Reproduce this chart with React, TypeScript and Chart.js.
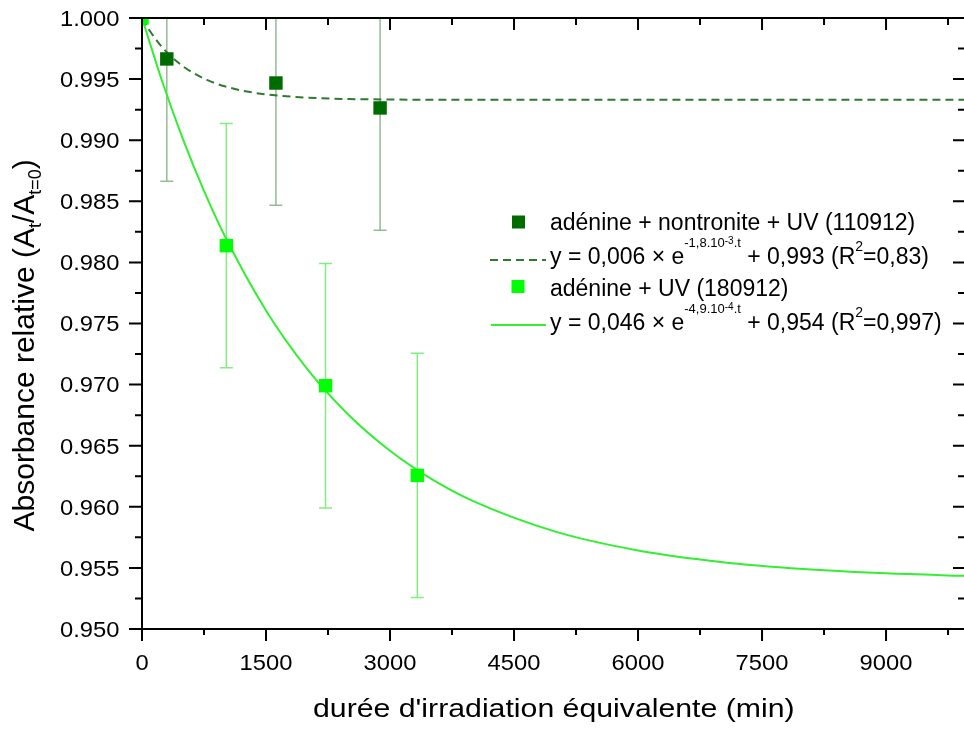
import React, { useEffect, useRef } from 'react';
import { Chart, registerables } from 'chart.js';

Chart.register(...registerables);

// ---- measured points (t in min, relative absorbance) ----
const darkT = [300, 1620, 2880];
const darkY = [0.99665, 0.99468, 0.99264];
const darkErr = [0.01, 0.01, 0.01];

const lightT = [0, 1020, 2220, 3330];
const lightY = [1.0, 0.98137, 0.96991, 0.96257];
const lightErr = [0, 0.01, 0.01, 0.01];

// ---- fitted curves, values ----
const darkFitT = [0, 100, 200, 300, 400, 600, 800, 1000, 1250, 1500, 2000, 2500, 3000, 4000, 10000];
const darkFitY = [1.0, 0.9989, 0.99797, 0.9972, 0.99656, 0.99558, 0.99489, 0.99441, 0.99401, 0.99375, 0.99348, 0.99337, 0.99333, 0.9933, 0.9933];

const lightFitT = [0, 250, 500, 750, 1000, 1500, 2000, 2500, 3000, 3500, 4000, 5000, 6000, 7000, 8000, 9000, 10000];
const lightFitY = [1.0, 0.9947, 0.99, 0.98585, 0.98218, 0.97606, 0.97126, 0.96751, 0.96458, 0.96228, 0.96048, 0.95797, 0.95643, 0.95549, 0.95491, 0.95456, 0.95434];

// ---- axes ----
const xMin = 0;
const xMax = 9943; // axis is cut by the right edge of the picture
const yMin = 0.95;
const yMax = 1.0;
const xTicks = [0, 1500, 3000, 4500, 6000, 7500, 9000];
const xTickLabels = ['0', '1500', '3000', '4500', '6000', '7500', '9000'];
const xMinorTicks = [750, 2250, 3750, 5250, 6750, 8250, 9750];
const yTicks = [0.95, 0.955, 0.96, 0.965, 0.97, 0.975, 0.98, 0.985, 0.99, 0.995, 1.0];
const yTickLabels = ['0.950', '0.955', '0.960', '0.965', '0.970', '0.975', '0.980', '0.985', '0.990', '0.995', '1.000'];
const yMinorTicks = [0.9525, 0.9575, 0.9625, 0.9675, 0.9725, 0.9775, 0.9825, 0.9875, 0.9925, 0.9975];

const xTitle = "durée d'irradiation équivalente (min)";
const darkLabel = 'adénine + nontronite + UV (110912)';
const lightLabel = 'adénine + UV (180912)';
const darkFitParts = ['y = 0,006 × e', '-1,8.10', '-3', '.t', ' + 0,993 (R', '2', '=0,83)'];
const lightFitParts = ['y = 0,046 × e', '-4,9.10', '-4', '.t', ' + 0,954 (R', '2', '=0,997)'];

const DARK = '#006c00';
const LIGHT = '#00ff00';
const DARK_FIT = '#2f7a2f';
const LIGHT_FIT = '#33ee33';
const DARK_ERR = 'rgba(40,120,40,0.5)';
const LIGHT_ERR = 'rgba(60,230,60,0.65)';
const FONT = '"Liberation Sans", Arial, Helvetica, sans-serif';

function stretchedText(ctx: CanvasRenderingContext2D, text: string, x: number, y: number, size: number, sx: number, align: 'left' | 'right' | 'center') {
  ctx.save();
  ctx.font = `${size}px ${FONT}`;
  const w = ctx.measureText(text).width * sx;
  let left = x;
  if (align === 'right') left = x - w;
  if (align === 'center') left = x - w / 2;
  ctx.translate(left, y);
  ctx.scale(sx, 1);
  ctx.textAlign = 'left';
  ctx.textBaseline = 'alphabetic';
  ctx.fillText(text, 0, 0);
  ctx.restore();
}

function richText(ctx: CanvasRenderingContext2D, parts: { t: string; s: number; r: number }[], x: number, y: number) {
  let cx = x;
  ctx.textAlign = 'left';
  ctx.textBaseline = 'alphabetic';
  for (const p of parts) {
    ctx.font = `${p.s}px ${FONT}`;
    ctx.fillText(p.t, cx, y - p.r);
    cx += ctx.measureText(p.t).width;
  }
}

function fitParts(p: string[]) {
  return [
    { t: p[0], s: 23, r: 0 },
    { t: p[1], s: 13, r: 17 },
    { t: p[2], s: 10, r: 20 },
    { t: p[3], s: 13, r: 17 },
    { t: p[4], s: 23, r: 0 },
    { t: p[5], s: 14, r: 13 },
    { t: p[6], s: 23, r: 0 },
  ];
}

const decor = {
  id: 'decor',
  beforeDatasetsDraw(chart: any) {
    const { ctx, chartArea: a, scales } = chart;
    const xs = scales.x;
    const ys = scales.y;
    ctx.save();
    ctx.beginPath();
    ctx.rect(a.left, a.top, a.right - a.left, a.bottom - a.top);
    ctx.clip();
    const bars = (ts: number[], vs: number[], es: number[], color: string) => {
      ctx.strokeStyle = color;
      ctx.lineWidth = 1.5;
      for (let i = 0; i < ts.length; i++) {
        if (es[i] <= 0) continue;
        const px = xs.getPixelForValue(ts[i]);
        const top = ys.getPixelForValue(vs[i] + es[i]);
        const bot = ys.getPixelForValue(vs[i] - es[i]);
        ctx.beginPath();
        ctx.moveTo(px, top);
        ctx.lineTo(px, bot);
        ctx.moveTo(px - 6.5, top);
        ctx.lineTo(px + 6.5, top);
        ctx.moveTo(px - 6.5, bot);
        ctx.lineTo(px + 6.5, bot);
        ctx.stroke();
      }
    };
    bars(darkT, darkY, darkErr, DARK_ERR);
    bars(lightT, lightY, lightErr, LIGHT_ERR);
    ctx.restore();
  },
  afterDatasetsDraw(chart: any) {
    const { ctx, chartArea: a, scales } = chart;
    const xs = scales.x;
    const ys = scales.y;
    const right = a.right + 1; // right axis line falls just outside the picture
    ctx.save();
    ctx.strokeStyle = '#000';
    ctx.fillStyle = '#000';
    ctx.lineWidth = 2;
    ctx.lineCap = 'butt';
    ctx.beginPath();
    ctx.moveTo(a.left, a.top);
    ctx.lineTo(right, a.top);
    ctx.moveTo(a.left, a.bottom);
    ctx.lineTo(right, a.bottom);
    ctx.moveTo(a.left, a.top - 1);
    ctx.lineTo(a.left, a.bottom + 1);
    ctx.moveTo(right, a.top - 1);
    ctx.lineTo(right, a.bottom + 1);
    for (const v of xTicks) {
      const px = xs.getPixelForValue(v);
      ctx.moveTo(px, a.bottom);
      ctx.lineTo(px, a.bottom + 12);
      ctx.moveTo(px, a.top);
      ctx.lineTo(px, a.top + 12);
    }
    for (const v of xMinorTicks) {
      const px = xs.getPixelForValue(v);
      ctx.moveTo(px, a.bottom);
      ctx.lineTo(px, a.bottom + 6);
      ctx.moveTo(px, a.top);
      ctx.lineTo(px, a.top + 7);
    }
    for (const v of yTicks) {
      const py = ys.getPixelForValue(v);
      ctx.moveTo(a.left - 13, py);
      ctx.lineTo(a.left, py);
      ctx.moveTo(right - 12, py);
      ctx.lineTo(right, py);
    }
    for (const v of yMinorTicks) {
      const py = ys.getPixelForValue(v);
      ctx.moveTo(a.left - 7, py);
      ctx.lineTo(a.left, py);
      ctx.moveTo(right - 7, py);
      ctx.lineTo(right, py);
    }
    ctx.stroke();
    xTicks.forEach((v, i) => {
      stretchedText(ctx, xTickLabels[i], xs.getPixelForValue(v), a.bottom + 41, 22, 1.08, 'center');
    });
    yTicks.forEach((v, i) => {
      stretchedText(ctx, yTickLabels[i], 119.5, ys.getPixelForValue(v) + 7.8, 22, 1.08, 'right');
    });
    stretchedText(ctx, xTitle, 313, 717, 25, 1.21, 'left');
    ctx.save();
    ctx.translate(33.5, 531.5);
    ctx.rotate(-Math.PI / 2);
    richText(ctx, [
      { t: 'Absorbance relative (A', s: 30, r: 0 },
      { t: 't', s: 18, r: -7 },
      { t: '/A', s: 30, r: 0 },
      { t: 't=0', s: 18, r: -7 },
      { t: ')', s: 30, r: 0 },
    ], 0, 0);
    ctx.restore();
    // legend
    ctx.fillStyle = DARK;
    ctx.fillRect(518.5 - 6.5, 222 - 6.5, 13, 13);
    ctx.fillStyle = LIGHT;
    ctx.fillRect(518 - 6.5, 286.5 - 6.5, 13, 13);
    ctx.strokeStyle = DARK_FIT;
    ctx.lineWidth = 2;
    ctx.setLineDash([8, 5]);
    ctx.beginPath();
    ctx.moveTo(490, 260);
    ctx.lineTo(546, 260);
    ctx.stroke();
    ctx.setLineDash([]);
    ctx.strokeStyle = LIGHT_FIT;
    ctx.beginPath();
    ctx.moveTo(491, 325);
    ctx.lineTo(546, 325);
    ctx.stroke();
    ctx.fillStyle = '#000';
    richText(ctx, [{ t: darkLabel, s: 23, r: 0 }], 550, 229.5);
    richText(ctx, fitParts(darkFitParts), 550, 264);
    richText(ctx, [{ t: lightLabel, s: 23, r: 0 }], 550, 295.5);
    richText(ctx, fitParts(lightFitParts), 550, 330);
    ctx.restore();
  },
};

export default function App() {
  const ref = useRef<HTMLCanvasElement | null>(null);
  useEffect(() => {
    if (!ref.current) return;
    const pts = (ts: number[], vs: number[]) => ts.map((t, i) => ({ x: t, y: vs[i] }));
    const chart = new Chart(ref.current, {
      type: 'scatter',
      data: {
        datasets: [
          {
            label: darkLabel,
            data: pts(darkT, darkY),
            pointStyle: 'rect',
            pointRadius: 9.5,
            backgroundColor: DARK,
            borderColor: DARK,
            borderWidth: 0,
            showLine: false,
            clip: 0,
          },
          {
            label: lightLabel,
            data: pts(lightT, lightY),
            pointStyle: 'rect',
            pointRadius: 9.5,
            backgroundColor: LIGHT,
            borderColor: LIGHT,
            borderWidth: 0,
            showLine: false,
            clip: 0,
          },
          {
            label: 'fit dark',
            data: pts(darkFitT, darkFitY),
            showLine: true,
            borderColor: DARK_FIT,
            borderWidth: 2,
            borderDash: [8, 5],
            pointRadius: 0,
            cubicInterpolationMode: 'monotone',
            clip: 0,
          },
          {
            label: 'fit light',
            data: pts(lightFitT, lightFitY),
            showLine: true,
            borderColor: LIGHT_FIT,
            borderWidth: 2,
            pointRadius: 0,
            cubicInterpolationMode: 'monotone',
            clip: 0,
          },
        ],
      } as any,
      options: {
        animation: false,
        responsive: false,
        devicePixelRatio: 1,
        events: [],
        layout: { autoPadding: false, padding: { left: 142, top: 18, bottom: 100, right: 0 } },
        plugins: { legend: { display: false }, tooltip: { enabled: false } },
        scales: {
          x: {
            type: 'linear',
            min: xMin,
            max: xMax,
            grid: { display: false },
            border: { display: false },
            ticks: { display: false },
            afterFit: (s: any) => { s.height = 0; },
          },
          y: {
            type: 'linear',
            min: yMin,
            max: yMax,
            grid: { display: false },
            border: { display: false },
            ticks: { display: false },
            afterFit: (s: any) => { s.width = 0; },
          },
        },
      } as any,
      plugins: [decor],
    });
    return () => chart.destroy();
  }, []);
  return (
    <div style={{ position: 'absolute', left: 0, top: 0, width: 964, height: 729, overflow: 'hidden', background: '#fff' }}>
      <canvas ref={ref} width={964} height={729} style={{ display: 'block', width: 964, height: 729 }} />
    </div>
  );
}
